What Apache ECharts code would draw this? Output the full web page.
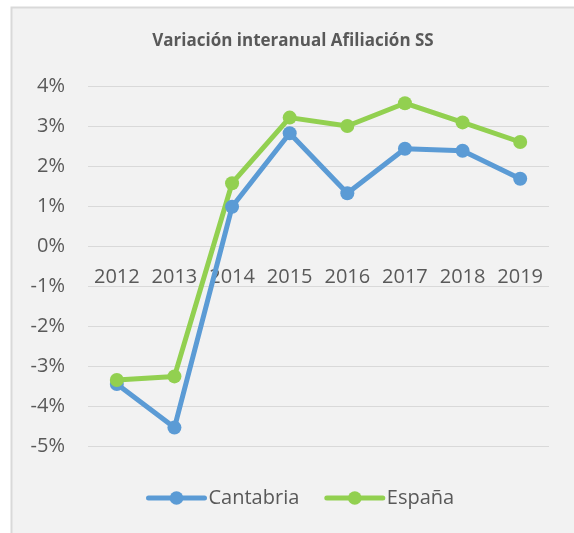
<!DOCTYPE html>
<html>
<head>
<meta charset="utf-8">
<script src="https://cdn.jsdelivr.net/npm/echarts@6/dist/echarts.min.js"></script>
<style>
  html, body { margin: 0; padding: 0; background: #ffffff; }
  #chart { width: 574px; height: 533px; }
</style>
</head>
<body>
<div id="chart"></div>
<script>
// Year-on-year change in Social Security affiliation (%)
const years = ['2012', '2013', '2014', '2015', '2016', '2017', '2018', '2019'];
const cantabria = [-3.45, -4.54, 0.98, 2.82, 1.32, 2.43, 2.38, 1.68];
const espana = [-3.35, -3.26, 1.57, 3.21, 3.00, 3.57, 3.09, 2.60];
const seriesNames = ['Cantabria', 'España'];
const yMin = -5, yMax = 4, yStep = 1;

const textColor = '#595959';
const gridColor = '#d9d9d9';
const fontFamily = '"Open Sans", "Noto Sans", sans-serif';

const gridTop = 86, gridBottom = 87;
const plotHeight = 533 - gridTop - gridBottom;
// the category axis sits on the 0% line, so shift it up from the bottom edge
const zeroShift = plotHeight * (0 - yMin) / (yMax - yMin);

const chart = echarts.init(document.getElementById('chart'), null, { renderer: 'canvas' });

function lineSeries(name, data, color) {
  return {
    name: name,
    type: 'line',
    data: data,
    symbol: 'circle',
    symbolSize: 14,
    showSymbol: true,
    lineStyle: { width: 5, color: color, cap: 'round', join: 'round' },
    itemStyle: { color: color },
    emphasis: { disabled: true },
    animation: false
  };
}

chart.setOption({
  backgroundColor: '#ffffff',
  animation: false,
  graphic: [{
    type: 'rect',
    z: -10,
    silent: true,
    shape: { x: 11.5, y: 7.5, width: 600, height: 600 },
    style: { fill: '#f2f2f2', stroke: gridColor, lineWidth: 2 }
  }],
  title: {
    text: 'Variación interanual Afiliación SS',
    left: 288,
    top: 28,
    textAlign: 'center',
    textStyle: { fontFamily: fontFamily, fontSize: 17, fontWeight: 'bold', color: textColor }
  },
  legend: {
    data: seriesNames,
    left: 146,
    top: 488,
    padding: 0,
    itemWidth: 56,
    itemHeight: 17,
    itemGap: 25,
    lineStyle: { width: 5, cap: 'round' },
    textStyle: { fontFamily: fontFamily, fontSize: 20, color: textColor, padding: [0, 0, 0, -1] }
  },
  grid: { left: 88, right: 25, top: gridTop, bottom: gridBottom, containLabel: false },
  xAxis: {
    type: 'category',
    data: years,
    boundaryGap: true,
    position: 'bottom',
    offset: -zeroShift,
    axisLine: { show: false, onZero: false },
    axisTick: { show: false },
    axisLabel: { interval: 0, margin: 21, fontFamily: fontFamily, fontSize: 20, color: textColor },
    splitLine: { show: false }
  },
  yAxis: {
    type: 'value',
    min: yMin,
    max: yMax,
    interval: yStep,
    axisLine: { show: false },
    axisTick: { show: false },
    axisLabel: {
      margin: 23,
      fontFamily: fontFamily,
      fontSize: 20,
      color: textColor,
      formatter: v => v + '%'
    },
    splitLine: { show: true, lineStyle: { color: gridColor, width: 1 } }
  },
  series: [
    lineSeries(seriesNames[0], cantabria, '#5b9bd5'),
    lineSeries(seriesNames[1], espana, '#92d050')
  ]
});
</script>
</body>
</html>
